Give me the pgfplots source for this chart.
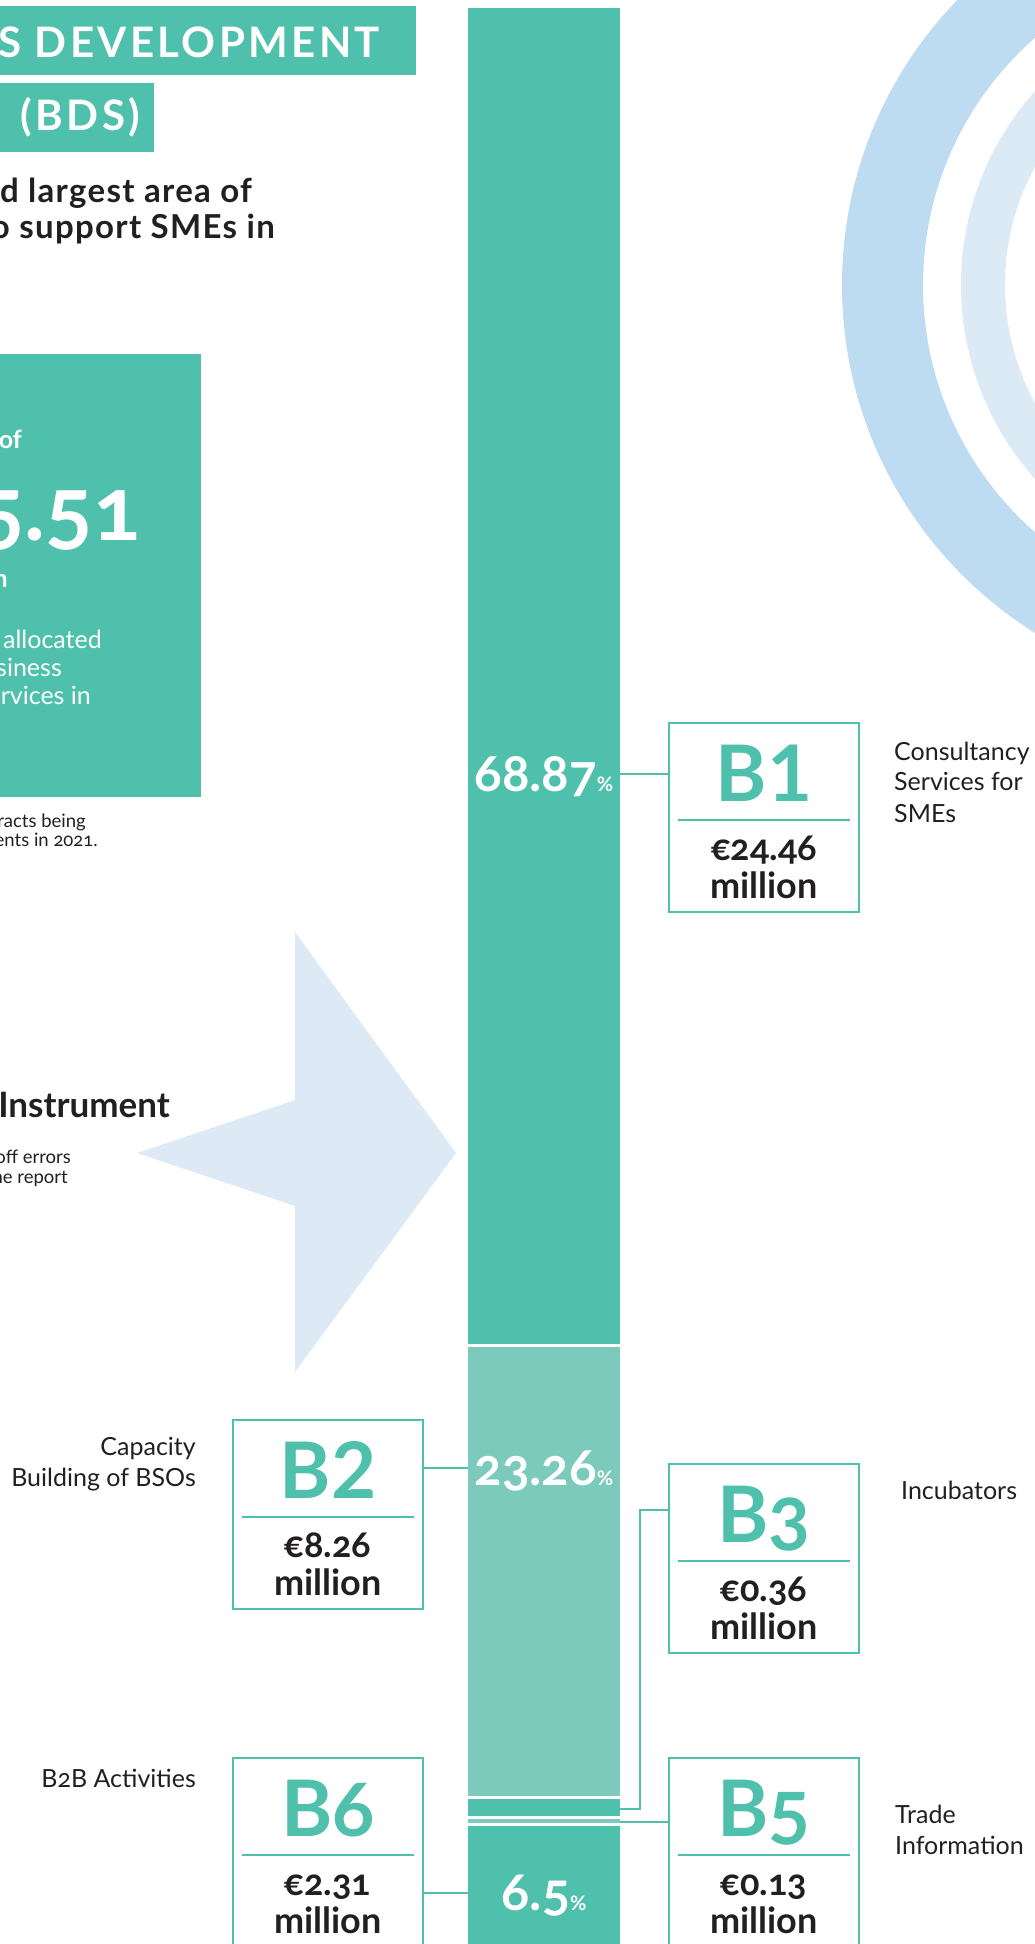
\documentclass[border=0pt]{standalone}
\usepackage{pgfplots}
\pgfplotsset{compat=1.18}
\usepackage{fontspec}
\setmainfont{Lato}[Numbers=OldStyle]

\definecolor{tealc}{HTML}{4EC0AB}
\definecolor{tealL}{HTML}{7BCABB}
\definecolor{darkc}{HTML}{231F20}
\definecolor{ringA}{HTML}{BEDCF1}
\definecolor{ringB}{HTML}{DCEAF6}
\definecolor{arrowc}{HTML}{DDEAF6}

\newcommand\fs[1]{\fontsize{#1}{#1}\selectfont}
\newcommand\lin{\addfontfeatures{Numbers=Lining}}

% one amount box: x, y (top left, in px), label, amount
\newcommand\bbox[4]{%
  \begin{scope}[shift={(#1,#2)}]
    \draw[tealc, line width=2.5pt, fill=white] (0,0) rectangle (190,189);
    \draw[tealc, line width=2.5pt] (9,97) -- (181,97);
    \node[anchor=base, inner sep=0, text=tealc, font=\bfseries\fs{78}] at (95,78) {#3};
    \node[anchor=base, inner sep=0, text=darkc, font=\bfseries\fs{36}] at (95,137) {#4};
    \node[anchor=base, inner sep=0, text=darkc, font=\bfseries\fs{36}] at (95,175) {million};
  \end{scope}}

\begin{document}
\begin{tikzpicture}
\path[use as bounding box] (0pt,-1944pt) rectangle (1035pt,0pt);

% background shapes
\begin{scope}[x=1pt,y=-1pt]
  \clip (0,0) rectangle (1035,1944);
  \fill[ringA, even odd rule] (1252,285) circle[radius=410pt] (1252,285) circle[radius=329pt];
  \fill[ringB, even odd rule] (1252,285) circle[radius=291pt] (1252,285) circle[radius=247pt];
  \fill[arrowc] (295,932) -- (456,1153) -- (295,1372) -- (295,1206) -- (137,1153) -- (295,1100) -- cycle;
\end{scope}

% stacked bar, shares in percent
\begin{axis}[
  at={(0pt,0pt)}, anchor=north west,
  scale only axis, width=1035pt, height=1944pt,
  hide axis,
  xmin=0, xmax=1035,
  ymin=-0.31, ymax=99.64, y dir=reverse,
  enlargelimits=false,
  ybar stacked, bar width=155,
]
  \addplot[fill=tealc, draw=white, line width=3pt] coordinates {(544,68.87)};
  \addplot[fill=tealL, draw=white, line width=3pt] coordinates {(544,23.26)};
  \addplot[fill=tealc, draw=white, line width=3pt] coordinates {(544,1.01)};
  \addplot[fill=tealL, draw=white, line width=3pt] coordinates {(544,0.37)};
  \addplot[fill=tealc, draw=white, line width=3pt] coordinates {(544,6.50)};
\end{axis}

% texts, boxes, connectors
\begin{scope}[x=1pt,y=-1pt, every node/.style={inner sep=0}]
  \clip (0,0) rectangle (1035,1944);

  \fill[tealc] (0,6) rectangle (416,75);
  \node[anchor=base east, text=white, font=\bfseries\fs{42}\addfontfeatures{LetterSpace=8}] at (380,57) {BUSINESS DEVELOPMENT};
  \fill[tealc] (0,83) rectangle (154,152);
  \node[anchor=base east, text=white, font=\bfseries\fs{42}\addfontfeatures{LetterSpace=8}] at (140,130) {SERVICES\hspace{30pt}(BDS)};

  \node[anchor=base east, text=darkc, font=\bfseries\fs{33}\addfontfeatures{LetterSpace=4}] at (252,202) {BDS was the second largest area of};
  \node[anchor=base east, text=darkc, font=\bfseries\fs{33}\addfontfeatures{LetterSpace=4}] at (275,238) {intervention to support SMEs in};

  \fill[tealc] (0,354) rectangle (201,797);
  \node[anchor=base east, text=white, font=\bfseries\fs{25}] at (22,448) {A total of};
  \node[anchor=base east, text=white, font=\bfseries\fs{88}] at (141,540) {€35.51};
  \node[anchor=base east, text=white, font=\bfseries\fs{25}] at (8,587) {million};
  \node[anchor=base east, text=white, font=\fs{25}] at (102,648) {was allocated};
  \node[anchor=base east, text=white, font=\fs{25}] at (62,676) {to Business};
  \node[anchor=base east, text=white, font=\fs{25}] at (91,704) {Development Services in};

  \node[anchor=base east, text=darkc, font=\fs{18.5}] at (86,827) {with contracts being};
  \node[anchor=base east, text=darkc, font=\fs{18.5}] at (98,846) {signed or payments in 2021.};

  \node[anchor=base east, text=darkc, font=\bfseries\fs{35}] at (170,1117) {EU4Business Instrument};
  \node[anchor=base east, text=darkc, font=\fs{18.5}] at (71,1163) {due to round-off errors};
  \node[anchor=base east, text=darkc, font=\fs{18.5}] at (68,1183) {used in the report};

  % connectors
  \draw[tealc, line width=2.5pt] (620,774) -- (669,774);
  \draw[tealc, line width=2.5pt] (423,1468) -- (468,1468);
  \draw[tealc, line width=2.5pt] (669,1510) -- (640,1510) -- (640,1809) -- (620,1809);
  \draw[tealc, line width=2.5pt] (669,1822) -- (620,1822);
  \draw[tealc, line width=2.5pt] (423,1893) -- (468,1893);

  \bbox{669}{723}{\lin B1}{€24.46}
  \bbox{233}{1420}{\lin B2}{€8.26}
  \bbox{669}{1464}{B3}{€0.36}
  \bbox{669}{1758}{B5}{€0.13}
  \bbox{233}{1758}{B6}{€2.31}

  % shares in the bar
  \node[anchor=base, text=white, font=\bfseries\fs{51}] at (544,791) {68.87{\fs{20}\%}};
  \node[anchor=base, text=white, font=\bfseries\fs{51}] at (544,1485) {23.26{\fs{20}\%}};
  \node[anchor=base, text=white, font=\bfseries\fs{52}] at (544,1910) {6.5{\fs{20}\%}};

  % category names
  \node[anchor=base west, text=darkc, font=\fs{25}] at (894,760) {Consultancy};
  \node[anchor=base west, text=darkc, font=\fs{25}] at (894,790) {Services for};
  \node[anchor=base west, text=darkc, font=\fs{25}] at (894,822) {SMEs};
  \node[anchor=base east, text=darkc, font=\fs{25}] at (196,1455) {Capacity};
  \node[anchor=base east, text=darkc, font=\fs{25}] at (196,1486) {Building of BSOs};
  \node[anchor=base east, text=darkc, font=\fs{25}] at (196,1787) {B2B Activities};
  \node[anchor=base west, text=darkc, font=\fs{25}] at (901,1499) {Incubators};
  \node[anchor=base west, text=darkc, font=\fs{25}] at (895,1823) {Trade};
  \node[anchor=base west, text=darkc, font=\fs{25}] at (895,1854) {Information};
\end{scope}
\end{tikzpicture}
\end{document}
